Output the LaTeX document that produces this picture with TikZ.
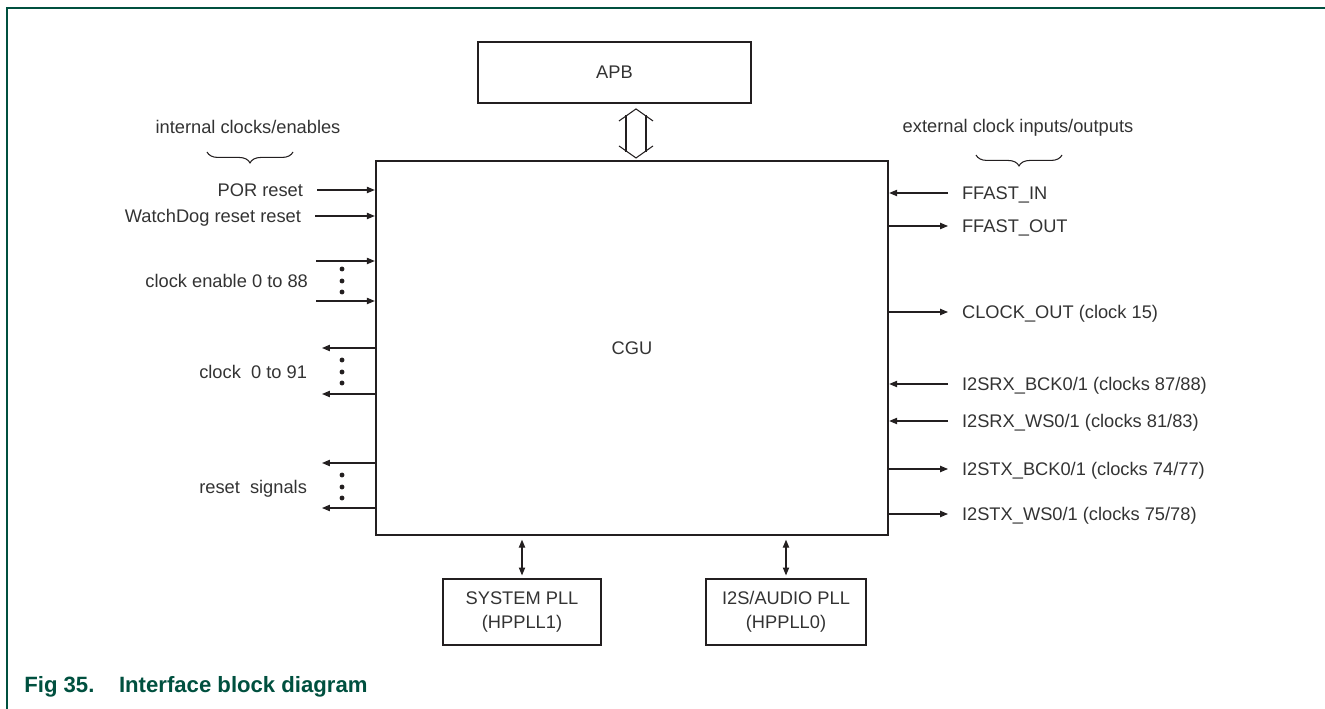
\documentclass[tikz,border=0pt]{standalone}
\usepackage{fontspec}
\setmainfont{Liberation Sans}
\usepackage{tikz}
\usetikzlibrary{arrows.meta, calc, decorations.pathreplacing}
\definecolor{FigGreen}{HTML}{00503F}
\definecolor{LineGrey}{HTML}{231F20}
\definecolor{TextGrey}{HTML}{333333}

\tikzset{
  blk/.style={draw=LineGrey, line width=1.1pt, inner sep=0pt, align=center, text=TextGrey},
  sig/.style={draw=LineGrey, line width=0.6pt, -{Triangle[length=4.5pt,width=3.6pt]}},
  bidir/.style={draw=LineGrey, line width=0.6pt,
    {Triangle[length=4.5pt,width=3.6pt]}-{Triangle[length=4.5pt,width=3.6pt]}},
  lbl/.style={inner sep=0pt, outer xsep=8pt, text=TextGrey, text height=7.4pt, text depth=0pt},
  grp/.style={draw=LineGrey, line width=0.6pt, decorate, decoration={brace, amplitude=6.2pt}},
}

\begin{document}
\begin{tikzpicture}[x=0.02cm, y=-0.02cm, font=\fontsize{10.4}{13.6}\selectfont]
  \useasboundingbox (0,0) rectangle (1325,709);
  % frame
  \draw[FigGreen, line width=1.1pt] (7,709) -- (7,8) -- (1325,8);

  % blocks
  \node[blk, line width=1.4pt, minimum width=10.24cm, minimum height=7.48cm] (cgu) at (632,348) {CGU};
  \node[blk, minimum width=5.46cm, minimum height=1.22cm] (apb) at (614.5,72.5) {APB};
  \node[blk, minimum width=3.16cm, minimum height=1.32cm] (syspll) at (522,612) {SYSTEM PLL\\(HPPLL1)};
  \node[blk, minimum width=3.2cm, minimum height=1.32cm] (audiopll) at (786,612) {I2S/AUDIO PLL\\(HPPLL0)};

  % APB bus
  \begin{scope}[shift={($(apb.south)+(21.5,0)$)}, color=LineGrey, line width=0.6pt]
    \draw (-17,17) -- (0,5) -- (17,17);
    \draw (-17,42) -- (0,54) -- (17,42);
    \draw (-10,11) -- (-10,48);
    \draw (10,11) -- (10,48);
  \end{scope}

  % PLL links
  \draw[bidir, shorten <=2pt, shorten >=1.5pt] (syspll.north |- cgu.south) -- (syspll.north);
  \draw[bidir, shorten <=2pt, shorten >=1.5pt] (audiopll.north |- cgu.south) -- (audiopll.north);

  % internal side
  \node[lbl] (intlbl) at (248,127) {internal clocks/enables};
  \draw[grp] (293,152) -- (207,152);
  \node[lbl, anchor=east] (por) at (317,190) {POR reset};
  \node[lbl, anchor=east] (wdog) at (315,216) {WatchDog reset reset};
  \draw[sig] (por.east) -- (por -| cgu.west);
  \draw[sig] (wdog.east) -- (wdog -| cgu.west);

  \node[lbl, anchor=east] (clken) at (322,281) {clock enable 0 to 88};
  \node[lbl, anchor=east] (clk) at (321,372) {clock\ \ 0 to 91};
  \node[lbl, anchor=east] (rst) at (321,487) {reset\ \ signals};
  \coordinate (ce1) at (316,261);
  \coordinate (ce2) at (316,301);
  \coordinate (ck1) at (322,348);
  \coordinate (ck2) at (322,394);
  \coordinate (rs1) at (322,463);
  \coordinate (rs2) at (322,508);
  \draw[sig] (ce1) -- (ce1 -| cgu.west);
  \draw[sig] (ce2) -- (ce2 -| cgu.west);
  \draw[sig] (ck1 -| cgu.west) -- (ck1);
  \draw[sig] (ck2 -| cgu.west) -- (ck2);
  \draw[sig] (rs1 -| cgu.west) -- (rs1);
  \draw[sig] (rs2 -| cgu.west) -- (rs2);
  \foreach \g in {clken, clk, rst}
    \foreach \dy in {-12, 0, 11}
      \fill[LineGrey] ($(\g.center -| 342,0) + (0,\dy)$) circle (1.4pt);

  % external side
  \node[lbl] (extlbl) at (1018,126) {external clock inputs/outputs};
  \draw[grp] (1062,155) -- (976,155);
  \node[lbl, anchor=west] (ffin) at (948,193) {FFAST\_IN};
  \node[lbl, anchor=west] (ffout) at (948,226) {FFAST\_OUT};
  \node[lbl, anchor=west] (clkout) at (948,312) {CLOCK\_OUT (clock 15)};
  \node[lbl, anchor=west] (rxbck) at (948,384) {I2SRX\_BCK0/1 (clocks 87/88)};
  \node[lbl, anchor=west] (rxws) at (948,421) {I2SRX\_WS0/1 (clocks 81/83)};
  \node[lbl, anchor=west] (txbck) at (948,469) {I2STX\_BCK0/1 (clocks 74/77)};
  \node[lbl, anchor=west] (txws) at (948,514) {I2STX\_WS0/1 (clocks 75/78)};
  \draw[sig] (ffin.west) -- (ffin -| cgu.east);
  \draw[sig] (ffout -| cgu.east) -- (ffout.west);
  \draw[sig] (clkout -| cgu.east) -- (clkout.west);
  \draw[sig] (rxbck.west) -- (rxbck -| cgu.east);
  \draw[sig] (rxws.west) -- (rxws -| cgu.east);
  \draw[sig] (txbck -| cgu.east) -- (txbck.west);
  \draw[sig] (txws -| cgu.east) -- (txws.west);

  % caption
  \node[anchor=west, inner sep=0pt, text=FigGreen, font=\fontsize{12.6}{15}\selectfont\bfseries]
    (caption) at (24,687) {Fig 35.\hspace{14pt}Interface block diagram};
\end{tikzpicture}
\end{document}
